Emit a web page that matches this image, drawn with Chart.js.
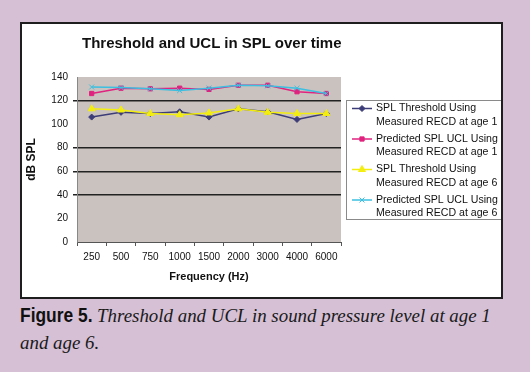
<!DOCTYPE html>
<html lang="en">
<head>
<meta charset="UTF-8">
<title>Threshold and UCL in SPL over time</title>
<script src="https://cdn.jsdelivr.net/npm/chart.js"></script>
<style>
    body {
        margin: 0;
        width: 530px;
        height: 372px;
        overflow: hidden;
        position: relative;
        background: #d6c0d6;
        font-family: Arial, "Liberation Sans", sans-serif;
    }

    .box {
        position: absolute;
        left: 20px;
        top: 22px;
        width: 483px;
        height: 277px;
        box-sizing: border-box;
        border: 2px solid #1e1e1e;
        background: #fff;
    }

    .box canvas {
        position: absolute;
        left: 0;
        top: 0;
    }

    .title {
        position: absolute;
        left: 60px;
        top: 10px;
        font-size: 15px;
        line-height: 18px;
        font-weight: bold;
        color: #111;
        white-space: nowrap;
    }

    .caption {
        position: absolute;
        left: 20px;
        top: 302px;
        width: 480px;
        font-family: "Liberation Serif", serif;
        font-style: italic;
        font-size: 18.9px;
        line-height: 27px;
        color: #1a1a1a;
    }

    .caption b {
        display: inline-block;
        font-family: Arial, "Liberation Sans", sans-serif;
        font-style: normal;
        font-size: 20px;
        color: #111;
        transform: scaleX(0.87);
        transform-origin: left center;
        margin-right: -11px;
    }
</style>
</head>
<body>
<div class="box">
    <canvas id="chart" width="479" height="273"></canvas>
    <div class="title">Threshold and UCL in SPL over time</div>
</div>
<div class="caption"><b>Figure 5.</b> Threshold and UCL in sound pressure level at age 1 and age 6.</div>

<script>
const frequencies = ['250', '500', '750', '1000', '1500', '2000', '3000', '4000', '6000'];

const thresholdAge1 = [106, 110, 109, 110.5, 106, 113, 110.5, 104, 109];
const uclAge1 = [126, 130.5, 130, 130.5, 129.5, 133, 133, 127.5, 126];
const thresholdAge6 = [113, 112, 109, 108, 109.5, 113, 110, 109, 109];
const uclAge6 = [131.5, 131, 130, 128.5, 130.5, 133, 132.5, 130.5, 126];

const seriesNames = [
    'SPL Threshold Using Measured RECD at age 1',
    'Predicted SPL UCL Using Measured RECD at age 1',
    'SPL Threshold Using Measured RECD at age 6',
    'Predicted SPL UCL Using Measured RECD at age 6'
];

// only these gridlines show up in the scan
const darkGridValues = [120, 80, 60, 40];

// grey plot area
const plotBackground = {
    id: 'plotBackground',
    beforeDraw(chart) {
        const a = chart.chartArea;
        const ctx = chart.ctx;
        ctx.save();
        ctx.fillStyle = '#c9c2be';
        ctx.fillRect(a.left, a.top, a.right - a.left, a.bottom - a.top);
        ctx.restore();
    }
};

// boxed legend with two-line labels, Excel style (right edge runs into the frame)
const legendBox = {
    id: 'legendBox',
    afterDraw(chart) {
        const ctx = chart.ctx;
        const x0 = 324, y0 = 76, w = 160, h = 120;
        ctx.save();
        ctx.fillStyle = '#fff';
        ctx.fillRect(x0, y0, w, h);
        ctx.strokeStyle = '#8a8a8a';
        ctx.lineWidth = 1;
        ctx.strokeRect(x0 + 0.5, y0 + 0.5, w - 1, h - 1);

        ctx.font = '10.6px Arial';
        ctx.textBaseline = 'middle';
        chart.data.datasets.forEach((ds, i) => {
            const y = y0 + 8.5 + i * 30.5;
            ctx.strokeStyle = ds.borderColor;
            ctx.lineWidth = 1.5;
            ctx.beginPath();
            ctx.moveTo(x0 + 6, y);
            ctx.lineTo(x0 + 26, y);
            ctx.stroke();

            ctx.fillStyle = ds.pointBackgroundColor;
            ctx.strokeStyle = ds.pointBorderColor;
            ctx.lineWidth = 1;
            Chart.helpers.drawPoint(ctx, {
                pointStyle: ds.pointStyle,
                radius: ds.pointRadius,
                borderWidth: 1,
                rotation: 0
            }, x0 + 16, y);

            // wrap label
            const words = ds.label.split(' ');
            const lines = [];
            let cur = '';
            words.forEach(wd => {
                const test = cur ? cur + ' ' + wd : wd;
                if (ctx.measureText(test).width > 135 && cur) {
                    lines.push(cur);
                    cur = wd;
                } else {
                    cur = test;
                }
            });
            lines.push(cur);

            ctx.fillStyle = '#111';
            lines.forEach((t, j) => ctx.fillText(t, x0 + 30, y + j * 13.5));
        });
        ctx.restore();
    }
};

function series(label, data, color, style, radius, order) {
    return {
        label: label,
        data: data,
        borderColor: color,
        backgroundColor: color,
        pointBackgroundColor: color,
        pointBorderColor: color,
        pointStyle: style,
        pointRadius: radius,
        pointBorderWidth: 1,
        borderWidth: 1.5,
        tension: 0,
        order: order
    };
}

const ctx = document.getElementById('chart').getContext('2d');
new Chart(ctx, {
    type: 'line',
    data: {
        labels: frequencies,
        datasets: [
            series(seriesNames[0], thresholdAge1, '#3c3c78', 'rectRot', 3, 4),
            series(seriesNames[1], uclAge1, '#e0237f', 'rect', 3, 3),
            series(seriesNames[2], thresholdAge6, '#f4ee10', 'triangle', 4, 2),
            series(seriesNames[3], uclAge6, '#3cbfe0', 'crossRot', 3.5, 1)
        ]
    },
    options: {
        responsive: false,
        animation: false,
        layout: {
            padding: { left: 0, top: 53, right: 160, bottom: 0 }
        },
        plugins: {
            legend: { display: false },
            tooltip: { enabled: false }
        },
        scales: {
            x: {
                offset: true,
                grid: {
                    offset: true,
                    drawOnChartArea: false,
                    tickLength: 4,
                    color: '#555'
                },
                border: { color: '#555' },
                ticks: {
                    color: '#111',
                    font: { size: 10, family: 'Arial' },
                    padding: 5,
                    maxRotation: 0,
                    autoSkip: false
                },
                title: {
                    display: true,
                    text: 'Frequency (Hz)',
                    color: '#111',
                    font: { size: 11, weight: 'bold', family: 'Arial' },
                    padding: { top: 0, bottom: 13 }
                },
                afterFit: s => { s.height = 55; }
            },
            y: {
                min: 0,
                max: 140,
                ticks: {
                    stepSize: 20,
                    color: '#111',
                    font: { size: 10, family: 'Arial' },
                    padding: 5
                },
                grid: {
                    color: c => (c.tick && darkGridValues.includes(c.tick.value)) ? '#222' : 'rgba(0,0,0,0)',
                    lineWidth: 1.5,
                    tickLength: 4
                },
                border: { color: '#888' },
                title: {
                    display: true,
                    text: 'dB SPL',
                    color: '#111',
                    font: { size: 12, weight: 'bold', family: 'Arial' },
                    padding: { top: 2, bottom: 0 }
                },
                afterFit: s => { s.width = 55; }
            }
        }
    },
    plugins: [plotBackground, legendBox]
});
</script>
</body>
</html>
